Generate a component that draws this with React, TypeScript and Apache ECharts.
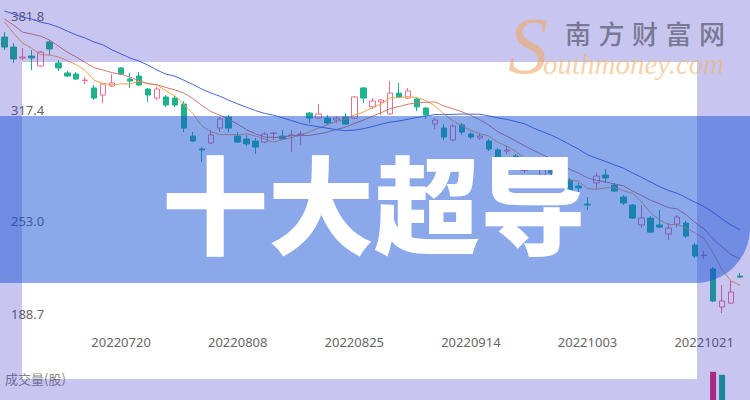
import React, { useEffect, useRef } from 'react';
import * as echarts from 'echarts';

const tradeDates = [
  '20220630', '20220704', '20220705', '20220706', '20220707', '20220708', '20220711', '20220712', '20220713', '20220714',
  '20220715', '20220718', '20220719', '20220720', '20220721', '20220722', '20220725', '20220726', '20220727', '20220728',
  '20220729', '20220801', '20220802', '20220803', '20220804', '20220805', '20220808', '20220809', '20220810', '20220811',
  '20220812', '20220815', '20220816', '20220817', '20220818', '20220819', '20220822', '20220823', '20220824', '20220825',
  '20220826', '20220829', '20220830', '20220831', '20220901', '20220902', '20220905', '20220906', '20220907', '20220908',
  '20220909', '20220913', '20220914', '20220915', '20220916', '20220919', '20220920', '20220921', '20220922', '20220923',
  '20220926', '20220927', '20220928', '20220929', '20220930', '20221003', '20221005', '20221006', '20221007', '20221010',
  '20221011', '20221012', '20221013', '20221014', '20221017', '20221018', '20221019', '20221020', '20221021', '20221024',
  '20221025', '20221026', '20221027'
];

const openPrices = [
  365.0, 358.8, 352.0, 353.2, 347.0, 361.9, 348.9, 342.7, 342.0, 338.0,
  333.4, 329.0, 334.6, 345.8, 338.9, 340.8, 332.7, 327.1, 327.8, 327.1,
  323.4, 303.5, 295.5, 299.2, 308.5, 315.3, 303.5, 301.7, 300.4, 299.8,
  305.1, 303.5, 303.9, 304.5, 317.8, 314.7, 314.7, 313.5, 315.3, 314.7,
  333.4, 321.6, 324.7, 317.2, 330.2, 327.1, 326.5, 320.9, 311.0, 308.5,
  301.1, 310.4, 304.8, 302.3, 300.4, 294.9, 294.2, 291.1, 282.1, 278.1,
  271.9, 282.4, 278.1, 276.2, 272.5, 261.3, 274.4, 279.3, 273.1, 265.7,
  260.7, 248.3, 252.6, 248.3, 242.7, 248.9, 249.5, 235.9, 229.3, 221.0,
  197.4, 199.8, 216.6
];

const closePrices = [
  358.8, 351.4, 352.6, 352.0, 355.7, 357.6, 345.8, 340.8, 338.9, 338.3,
  327.1, 335.8, 336.5, 342.0, 337.7, 335.2, 329.0, 332.7, 322.8, 322.8,
  308.5, 300.4, 294.9, 304.2, 314.1, 308.5, 299.8, 298.6, 296.7, 304.8,
  305.4, 301.7, 304.2, 304.8, 314.7, 317.2, 311.6, 314.7, 311.0, 327.8,
  327.1, 325.3, 325.9, 330.2, 327.8, 331.5, 321.6, 316.6, 313.5, 302.9,
  309.8, 306.0, 302.9, 303.5, 295.5, 289.9, 294.9, 286.2, 282.4, 274.4,
  283.7, 280.6, 273.1, 268.8, 271.3, 260.7, 278.7, 277.5, 269.4, 261.9,
  252.6, 252.6, 243.9, 247.0, 246.4, 253.2, 241.4, 229.0, 229.6, 201.1,
  201.1, 206.7, 216.0
];

const lowPrices = [
  357.0, 348.9, 350.7, 344.5, 346.4, 353.8, 343.9, 340.2, 338.3, 335.8,
  325.9, 324.0, 334.0, 341.4, 333.4, 334.6, 324.7, 325.9, 321.6, 321.6,
  306.0, 299.8, 287.4, 298.6, 306.0, 306.0, 299.2, 297.3, 292.4, 299.2,
  301.1, 301.1, 293.6, 298.0, 311.6, 314.1, 310.4, 311.6, 310.4, 314.1,
  324.0, 320.3, 316.6, 316.6, 327.1, 326.5, 319.1, 314.1, 307.9, 301.1,
  300.4, 304.2, 301.7, 301.1, 294.2, 288.6, 292.4, 284.9, 280.6, 273.1,
  271.3, 279.3, 271.9, 268.2, 265.7, 257.6, 270.6, 274.4, 268.8, 260.7,
  252.0, 246.4, 243.3, 246.4, 239.0, 247.0, 240.2, 227.8, 227.2, 200.5,
  193.6, 199.2, 215.4
];

const highPrices = [
  368.1, 361.3, 358.2, 357.0, 356.3, 363.2, 350.7, 343.9, 343.3, 340.2,
  335.2, 336.5, 342.0, 346.4, 342.7, 343.3, 333.4, 334.0, 329.0, 328.4,
  325.3, 306.0, 296.7, 307.3, 315.3, 316.6, 306.0, 304.2, 302.3, 306.0,
  306.0, 307.3, 307.3, 306.7, 318.5, 323.4, 316.6, 316.0, 317.8, 328.4,
  334.0, 327.1, 326.5, 337.7, 336.5, 333.4, 327.8, 321.6, 314.7, 311.0,
  311.0, 311.6, 306.0, 304.8, 301.7, 296.1, 297.3, 292.4, 284.9, 279.3,
  286.8, 283.7, 279.3, 277.5, 274.4, 265.7, 280.6, 283.1, 274.4, 266.9,
  261.3, 260.7, 253.9, 257.6, 249.5, 254.5, 250.8, 237.1, 232.1, 222.2,
  211.0, 214.1, 218.5
];

const ma5Values = [
  374.3, 367.5, 361.3, 358.2, 354.1, 353.8, 352.7, 350.4, 347.8, 344.3,
  338.2, 336.2, 335.3, 336.0, 335.8, 337.5, 336.1, 335.3, 331.5, 328.5,
  323.2, 317.5, 309.9, 306.2, 304.4, 304.4, 304.3, 305.0, 303.5, 301.7,
  299.8, 301.4, 302.5, 304.2, 306.2, 308.5, 310.5, 312.6, 313.9, 316.5,
  318.4, 321.2, 323.4, 327.3, 327.3, 328.1, 327.4, 325.5, 322.2, 317.2,
  312.9, 309.8, 307.0, 305.0, 303.5, 299.6, 297.3, 294.0, 289.8, 285.5,
  284.3, 281.4, 278.8, 276.1, 275.5, 270.9, 270.5, 271.4, 271.5, 269.6,
  268.0, 262.8, 256.1, 251.6, 248.5, 248.6, 246.4, 243.4, 240.0, 230.9,
  220.5, 213.5, 210.9
];

const ma10Values = [
  376.2, 372.5, 368.1, 366.9, 365.6, 363.2, 359.4, 355.7, 352.6, 349.2,
  346.0, 344.5, 342.9, 341.9, 340.1, 337.8, 336.1, 335.3, 333.7, 332.2,
  330.3, 326.8, 322.6, 318.8, 316.5, 313.8, 310.9, 307.5, 304.9, 303.0,
  302.7, 302.9, 303.8, 303.9, 303.9, 304.8, 306.0, 307.6, 309.0, 311.3,
  313.5, 315.8, 318.0, 320.6, 321.9, 323.3, 324.3, 324.5, 324.7, 322.2,
  320.5, 318.6, 316.3, 313.6, 310.4, 306.2, 303.5, 300.5, 297.4, 294.5,
  291.9, 289.4, 286.4, 282.9, 280.5, 277.6, 276.0, 275.1, 273.8, 272.6,
  269.5, 266.7, 263.7, 261.6, 259.1, 258.3, 254.6, 249.8, 245.8, 239.7,
  234.6, 230.0, 227.2
];

const ma20Values = [
  381.2, 379.3, 377.4, 376.2, 374.3, 373.1, 371.2, 368.7, 366.3, 364.4,
  361.9, 360.1, 357.0, 354.5, 352.0, 350.1, 347.6, 344.5, 342.0, 340.7,
  338.2, 335.6, 332.7, 330.3, 328.3, 325.8, 323.5, 321.4, 319.3, 317.6,
  316.5, 314.8, 313.2, 311.3, 310.2, 309.3, 308.4, 307.5, 306.9, 307.2,
  308.1, 309.4, 310.9, 312.2, 312.9, 314.0, 315.1, 316.0, 316.9, 316.8,
  317.0, 317.2, 317.1, 317.1, 316.1, 314.8, 313.9, 312.5, 311.1, 308.4,
  306.2, 304.0, 301.3, 298.3, 295.4, 291.9, 289.8, 287.8, 285.6, 283.6,
  280.7, 278.0, 275.1, 272.2, 269.8, 268.0, 265.3, 262.4, 259.8, 256.1,
  252.0, 248.3, 245.4
];

const priceAxisLabels = [188.7, 253.0, 317.4, 381.8];

const volumeDates = ['20221024', '20221025'];
const volumeValues = [94, 84];
const volumeRising = [true, false];

const bannerTitle = '十大超导';
const siteName = '南方财富网';
const siteDomainHead = 'S';
const siteDomainTail = 'outhmoney.com';
const volumeTitle = '成交量(股)';

const UP = '#e8718d';
const DOWN = '#1db38c';
const OVERLAY = 'rgba(50,45,200,0.27)';
const BANNER = 'rgba(23,81,213,0.5)';
const LABEL_GRAY = '#666';

// per-label vertical nudge (spacer line heights) so labels sit where the reference prints them
const labelRich = (s: string, index: number) => {
  if (index === 0) return `{v|${s}}\n{s14| }`;
  if (index === 1) return `{s8| }\n{v|${s}}`;
  if (index === 2) return `{v|${s}}\n{s8| }`;
  return `{s12| }\n{v|${s}}`;
};

export default function App() {
  const ref = useRef<HTMLDivElement>(null);

  useEffect(() => {
    document.body.style.margin = '0';
    const chart = echarts.init(ref.current as HTMLDivElement, null, { renderer: 'svg' });

    const candleData = tradeDates.map((_, i) => [openPrices[i], closePrices[i], lowPrices[i], highPrices[i]]);
    const minV = priceAxisLabels[0];
    const maxV = priceAxisLabels[priceAxisLabels.length - 1];

    const logoChars = siteName.split('').map((ch, i) => ({
      type: 'text',
      x: 565 + i * 33.5,
      y: 32,
      z: 80,
      silent: true,
      style: {
        text: ch,
        fill: 'rgba(100,100,122,0.8)',
        font: '500 26px "Noto Sans CJK SC"',
        lineHeight: 22,
        textAlign: 'left',
        textVerticalAlign: 'middle',
      },
    }));

    const spacer = (h: number) => ({ lineHeight: h, fontSize: 1 });

    chart.setOption({
      animation: false,
      backgroundColor: '#ffffff',
      grid: [
        { left: -2.5, right: 5.5, top: 10, bottom: 79 },
        { left: -2.5, right: 5.5, top: 370, height: 100 },
      ],
      xAxis: [
        {
          type: 'category',
          gridIndex: 0,
          data: tradeDates,
          boundaryGap: true,
          axisLine: { show: false },
          axisTick: { show: false },
          splitLine: { show: false },
          axisLabel: {
            interval: (i: number) => i > 0 && i % 13 === 0,
            color: LABEL_GRAY,
            fontSize: 13,
            fontFamily: 'Noto Sans',
            margin: 14,
          },
        },
        {
          type: 'category',
          gridIndex: 1,
          data: tradeDates,
          boundaryGap: true,
          show: false,
        },
      ],
      yAxis: [
        {
          type: 'value',
          gridIndex: 0,
          min: minV,
          max: maxV,
          scale: true,
          axisLine: { show: false },
          axisTick: { show: false },
          splitLine: { show: false },
          axisLabel: {
            inside: true,
            customValues: priceAxisLabels,
            margin: 11,
            color: LABEL_GRAY,
            fontSize: 13,
            fontFamily: 'Noto Sans',
            formatter: (v: number) => labelRich(v.toFixed(1), priceAxisLabels.findIndex((p) => Math.abs(p - v) < 0.01)),
            rich: {
              v: { color: LABEL_GRAY, fontSize: 13, fontFamily: 'Noto Sans', lineHeight: 13 },
              s8: spacer(8),
              s12: spacer(12),
              s14: spacer(14),
            },
          },
        },
        { type: 'value', gridIndex: 1, min: 0, max: 100, show: false },
      ],
      series: [
        {
          type: 'candlestick',
          xAxisIndex: 0,
          yAxisIndex: 0,
          data: candleData,
          barWidth: 6,
          itemStyle: {
            color: 'rgba(0,0,0,0)',
            color0: DOWN,
            borderColor: UP,
            borderColor0: DOWN,
            borderWidth: 1,
          },
        },
        {
          type: 'line',
          name: 'MA5',
          data: ma5Values,
          symbol: 'none',
          showSymbol: false,
          lineStyle: { width: 1, color: '#f2a54a' },
          z: 3,
        },
        {
          type: 'line',
          name: 'MA10',
          data: ma10Values,
          symbol: 'none',
          showSymbol: false,
          lineStyle: { width: 1, color: '#d27a6e' },
          z: 3,
        },
        {
          type: 'line',
          name: 'MA20',
          data: ma20Values,
          symbol: 'none',
          showSymbol: false,
          lineStyle: { width: 1, color: '#4668d8' },
          z: 3,
        },
        {
          type: 'bar',
          xAxisIndex: 1,
          yAxisIndex: 1,
          barWidth: 6,
          data: volumeDates.map((d, i) => ({
            value: [d, volumeValues[i]],
            itemStyle: { color: volumeRising[i] ? '#d42a6a' : '#12a88a' },
          })),
        },
      ],
      graphic: {
        elements: [
          { type: 'text', x: 5, y: 378, z: 40, silent: true,
            style: { text: volumeTitle, fill: '#888', font: '13px "Noto Sans CJK SC"', textVerticalAlign: 'middle' } },
          { type: 'rect', z: 50, silent: true, shape: { x: 0, y: 0, width: 750, height: 62 }, style: { fill: OVERLAY } },
          { type: 'rect', z: 50, silent: true, shape: { x: 0, y: 379, width: 750, height: 21 }, style: { fill: OVERLAY } },
          { type: 'rect', z: 50, silent: true, shape: { x: 0, y: 62, width: 22, height: 317 }, style: { fill: OVERLAY } },
          { type: 'rect', z: 50, silent: true, shape: { x: 697, y: 62, width: 53, height: 317 }, style: { fill: OVERLAY } },
          { type: 'rect', z: 60, silent: true, shape: { x: 0, y: 116, width: 750, height: 167, r: [0, 0, 55, 0] }, style: { fill: BANNER } },
          { type: 'text', x: 374, y: 200, z: 70, silent: true,
            style: { text: bannerTitle, fill: '#ffffff', font: '900 106px "Noto Sans CJK SC"', textAlign: 'center', textVerticalAlign: 'middle' } },
          { type: 'text', x: 508, y: 46, z: 80, silent: true,
            style: { text: siteDomainHead, fill: 'rgba(238,168,105,0.6)', font: 'italic 80px "Liberation Serif"', lineHeight: 56, textAlign: 'left', textVerticalAlign: 'middle' } },
          { type: 'text', x: 543, y: 64, z: 80, silent: true,
            style: { text: siteDomainTail, fill: 'rgba(240,180,110,0.6)', font: 'italic 29px "Liberation Serif"', lineHeight: 20, textAlign: 'left', textVerticalAlign: 'middle' } },
          ...logoChars,
        ],
      },
    });

    return () => chart.dispose();
  }, []);

  return <div ref={ref} style={{ width: 750, height: 400 }} />;
}
